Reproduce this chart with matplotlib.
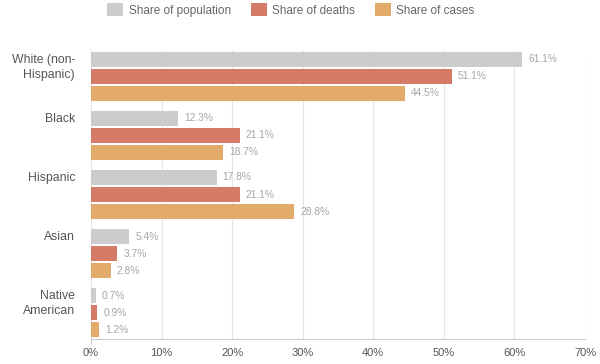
import matplotlib.pyplot as plt
import numpy as np
from matplotlib.patches import Patch

plt.rcParams['font.family'] = ['Liberation Sans', 'DejaVu Sans']

# data
groups = ['White (non-\nHispanic)', 'Black', 'Hispanic', 'Asian', 'Native\nAmerican']
population = [61.1, 12.3, 17.8, 5.4, 0.7]
deaths = [51.1, 21.1, 21.1, 3.7, 0.9]
cases = [44.5, 18.7, 28.8, 2.8, 1.2]
series_names = ['Share of population', 'Share of deaths', 'Share of cases']
colors = ['#cccccc', '#d67b67', '#e3ab6b']
xticks = [0, 10, 20, 30, 40, 50, 60, 70]

fig = plt.figure(figsize=(6, 3.64), dpi=100, facecolor='white')
ax = fig.add_axes([91 / 600, 25 / 364, 494 / 600, 289 / 364])

y = np.arange(len(groups))
step = 17 / 59
height = 15 / 59
for k, (vals, col) in enumerate(zip([population, deaths, cases], colors)):
    pos = y + (k - 1) * step
    ax.barh(pos, vals, height=height, color=col, zorder=2)
    for p, v in zip(pos, vals):
        ax.text(v + 0.85, p, f'{v}%', va='center', ha='left',
                fontsize=7.4, color='#a6a6a6')

# category labels hang from the top of each group
for g, name in zip(y, groups):
    ax.annotate(name, xy=(0, g - step - height / 2), xycoords=('axes fraction', 'data'),
                xytext=(-11.5, -1.5), textcoords='offset points', ha='right', va='top',
                fontsize=8.8, color='#555555', linespacing=1.32, annotation_clip=False)

ax.set_xlim(0, 70)
ax.set_ylim(4.449, -0.449)
ax.set_xticks(xticks)
ax.set_xticklabels([f'{t}%' for t in xticks], fontsize=8, color='#555555')
ax.set_yticks([])
ax.tick_params(axis='x', length=3.6, color='#cccccc', pad=3)
for t in ax.xaxis.get_major_ticks()[1:]:
    t.tick1line.set_visible(False)

ax.grid(axis='x', color='#e6e6e6', linewidth=0.8, zorder=0)
for s in ['top', 'right', 'left']:
    ax.spines[s].set_visible(False)
ax.spines['bottom'].set_color('#cccccc')

handles = [Patch(facecolor=c, edgecolor='none') for c in colors]
fig.legend(handles, series_names, loc='center', bbox_to_anchor=(291 / 600, 1 - 10 / 364),
           ncol=3, frameon=False, fontsize=8.5, handlelength=1.35, handleheight=1.35,
           handletextpad=0.45, columnspacing=1.7, labelcolor='#666666')

fig.savefig('out.png', dpi=100)
